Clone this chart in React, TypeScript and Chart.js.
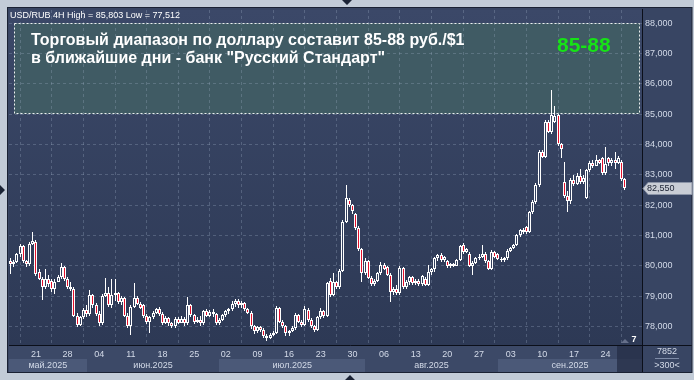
import React, { useEffect, useRef } from 'react';
import { Chart, registerables } from 'chart.js';

Chart.register(...registerables);

// ---- DATA ----
const opens = [
  80.15, 80.05, 80.12, 80.38, 80.65, 80.15, 80.05, 80.72, 80.80, 79.80,
  79.58, 79.30, 79.55, 79.50, 79.22, 79.48, 79.62, 79.95, 79.58, 79.30,
  79.25, 78.35, 78.05, 78.30, 78.55, 78.40, 79.05, 78.70, 78.40, 78.10,
  79.02, 79.10, 78.70, 79.05, 79.10, 78.80, 78.95, 78.35, 78.00, 78.65,
  78.95, 78.75, 78.70, 78.33, 78.15, 78.30, 78.45, 78.58, 78.40, 78.12,
  78.28, 78.10, 78.00, 78.25, 78.12, 78.25, 78.10, 78.70, 78.38, 78.15,
  78.22, 78.10, 78.50, 78.35, 78.48, 78.40, 78.10, 78.22, 78.38, 78.50,
  78.58, 78.75, 78.85, 78.70, 78.78, 78.58, 78.45, 78.00, 77.85, 77.98,
  77.90, 77.70, 77.62, 77.72, 77.80, 78.60, 78.15, 78.00, 77.78, 77.85,
  77.95, 78.38, 78.15, 78.05, 78.55, 78.22, 78.00, 77.90, 78.30, 78.50,
  78.35, 79.50, 79.05, 79.45, 79.30, 79.82, 81.45, 82.17, 82.00, 81.70,
  81.25, 80.55, 79.75, 80.15, 79.60, 79.40, 79.50, 79.75, 80.03, 79.95,
  79.70, 79.15, 79.25, 79.10, 79.92, 79.30, 79.45, 79.62, 79.42, 79.50,
  79.40, 79.55, 79.38, 79.80, 79.88, 80.25, 80.35, 80.20, 80.15, 79.98,
  80.05, 80.00, 80.18, 80.70, 80.45, 80.40, 80.00, 80.10, 80.25, 80.30,
  80.40, 80.15, 79.90, 80.45, 80.38, 80.22, 80.18, 80.25, 80.50, 80.58,
  80.68, 81.00, 81.18, 81.28, 81.12, 81.78, 82.11, 82.66, 83.75, 83.60,
  84.75, 84.42, 84.75, 84.97, 84.00, 82.75, 82.30, 82.12, 82.82, 82.70,
  82.95, 82.75, 82.25, 83.15, 83.40, 83.30, 83.48, 83.55, 83.05, 83.55,
  83.38, 83.50, 83.40, 83.43, 82.85,
];
const highs = [
  80.25, 80.20, 80.42, 80.72, 80.70, 80.20, 80.80, 81.12, 80.84, 79.88,
  79.62, 79.90, 79.70, 79.58, 79.55, 79.70, 80.08, 80.00, 79.62, 79.45,
  79.30, 78.45, 78.35, 78.60, 78.70, 79.20, 79.08, 78.78, 78.50, 79.08,
  79.60, 79.30, 79.55, 79.55, 79.15, 79.00, 78.98, 78.45, 78.70, 79.42,
  79.00, 78.80, 78.75, 78.40, 78.35, 78.50, 78.62, 78.65, 78.48, 78.35,
  78.32, 78.15, 78.30, 78.32, 78.35, 78.30, 78.98, 78.75, 78.42, 78.30,
  78.35, 78.55, 78.58, 78.55, 78.58, 78.45, 78.28, 78.42, 78.55, 78.62,
  78.85, 78.92, 78.92, 78.85, 78.82, 78.62, 78.50, 78.05, 78.02, 78.02,
  77.95, 77.75, 77.78, 77.85, 78.66, 78.65, 78.20, 78.05, 77.90, 78.00,
  78.45, 78.42, 78.22, 78.68, 78.60, 78.28, 78.05, 78.35, 78.60, 78.55,
  79.48, 79.60, 79.75, 79.50, 79.88, 81.50, 82.66, 82.25, 82.05, 81.75,
  81.30, 80.60, 80.25, 80.20, 79.65, 79.55, 79.80, 80.12, 80.10, 80.00,
  79.75, 79.30, 79.38, 79.98, 79.95, 79.52, 79.68, 79.65, 79.55, 79.55,
  79.70, 79.62, 80.03, 79.92, 80.30, 80.40, 80.42, 80.32, 80.20, 80.08,
  80.10, 80.22, 80.70, 80.75, 80.60, 80.45, 80.15, 80.30, 80.40, 80.70,
  80.45, 80.18, 80.52, 80.50, 80.42, 80.28, 80.30, 80.55, 80.62, 80.72,
  81.05, 81.22, 81.25, 81.32, 81.82, 82.18, 82.72, 83.80, 83.82, 84.80,
  84.80, 85.80, 85.25, 85.00, 84.05, 83.43, 82.45, 82.88, 83.00, 83.05,
  83.20, 83.00, 83.20, 83.45, 83.48, 83.65, 83.52, 83.60, 83.90, 83.60,
  83.55, 83.76, 83.62, 83.48, 82.90,
];
const lows = [
  79.72, 79.95, 80.08, 80.30, 80.10, 79.95, 80.00, 80.68, 79.66, 79.52,
  78.88, 79.25, 79.30, 79.15, 79.08, 79.45, 79.58, 79.50, 79.25, 79.18,
  78.30, 77.98, 78.00, 78.25, 78.30, 78.35, 78.60, 78.33, 78.00, 78.05,
  78.98, 78.65, 78.62, 78.85, 78.75, 78.70, 78.30, 77.95, 77.72, 78.60,
  78.70, 78.58, 78.28, 78.08, 77.80, 78.25, 78.40, 78.35, 78.05, 78.08,
  78.02, 77.95, 77.95, 78.08, 78.10, 78.02, 78.05, 78.32, 78.08, 78.10,
  78.02, 78.05, 78.30, 78.30, 78.30, 78.05, 78.05, 78.18, 78.32, 78.42,
  78.52, 78.65, 78.62, 78.60, 78.52, 78.40, 77.92, 77.75, 77.80, 77.82,
  77.62, 77.51, 77.58, 77.68, 77.75, 78.10, 77.95, 77.70, 77.68, 77.82,
  77.90, 78.10, 77.98, 78.00, 78.15, 77.95, 77.82, 77.85, 78.25, 78.28,
  78.30, 78.98, 79.00, 79.25, 79.25, 79.78, 81.40, 81.95, 81.72, 81.18,
  80.50, 79.45, 79.70, 79.55, 79.32, 79.35, 79.45, 79.70, 79.85, 79.65,
  78.82, 79.05, 79.04, 79.05, 79.25, 79.22, 79.38, 79.38, 79.36, 79.35,
  79.35, 79.33, 79.35, 79.70, 79.80, 80.15, 80.12, 80.14, 79.92, 79.92,
  79.95, 79.98, 80.15, 80.40, 80.42, 79.95, 79.70, 80.05, 80.20, 80.25,
  80.10, 79.85, 79.85, 80.25, 80.18, 80.12, 80.12, 80.20, 80.45, 80.55,
  80.65, 80.95, 81.05, 81.05, 81.08, 81.72, 82.05, 82.60, 83.55, 83.55,
  84.38, 84.35, 84.70, 83.95, 83.55, 82.25, 81.78, 82.05, 82.62, 82.65,
  82.70, 82.68, 82.20, 83.10, 83.22, 83.28, 83.35, 83.00, 83.00, 83.30,
  83.30, 83.20, 83.35, 82.80, 82.50,
];
const closes = [
  80.05, 80.12, 80.38, 80.65, 80.15, 80.05, 80.72, 80.82, 79.72, 79.58,
  79.30, 79.55, 79.40, 79.22, 79.48, 79.62, 79.95, 79.58, 79.30, 79.25,
  78.35, 78.05, 78.30, 78.55, 78.40, 79.05, 78.70, 78.40, 78.10, 79.02,
  79.10, 78.70, 79.05, 79.10, 78.80, 78.95, 78.35, 78.00, 78.65, 78.95,
  78.75, 78.62, 78.33, 78.15, 78.30, 78.45, 78.58, 78.40, 78.12, 78.28,
  78.10, 78.00, 78.25, 78.12, 78.25, 78.10, 78.70, 78.38, 78.15, 78.22,
  78.10, 78.50, 78.35, 78.48, 78.40, 78.10, 78.22, 78.38, 78.50, 78.58,
  78.75, 78.85, 78.70, 78.78, 78.58, 78.45, 78.00, 77.85, 77.98, 77.90,
  77.70, 77.62, 77.72, 77.80, 78.60, 78.15, 78.00, 77.78, 77.85, 77.95,
  78.38, 78.15, 78.05, 78.58, 78.22, 78.00, 77.90, 78.30, 78.50, 78.35,
  79.42, 79.05, 79.45, 79.30, 79.82, 81.45, 82.22, 82.00, 81.80, 81.25,
  80.55, 79.75, 80.15, 79.60, 79.40, 79.50, 79.75, 80.03, 79.90, 79.70,
  79.15, 79.25, 79.10, 79.92, 79.30, 79.45, 79.62, 79.42, 79.50, 79.40,
  79.65, 79.38, 79.80, 79.88, 80.25, 80.35, 80.20, 80.28, 79.98, 80.05,
  80.00, 80.18, 80.65, 80.45, 80.55, 80.00, 80.10, 80.25, 80.30, 80.40,
  80.15, 79.90, 80.45, 80.30, 80.22, 80.18, 80.25, 80.50, 80.58, 80.68,
  81.00, 81.18, 81.10, 81.12, 81.78, 82.11, 82.66, 83.75, 83.60, 84.75,
  84.42, 84.97, 84.95, 84.00, 83.85, 82.30, 82.12, 82.82, 82.70, 82.95,
  82.75, 82.90, 83.15, 83.40, 83.30, 83.48, 83.40, 83.05, 83.35, 83.38,
  83.50, 83.40, 83.55, 82.85, 82.55,
];

const weekTickPos = [8.5, 18.5, 28.5, 38.5, 48.5, 58.5, 68.5, 78.5, 88.5, 98.5, 108.5, 118.5, 128.5, 138.5, 148.5, 158.5, 168.5, 178.5, 188.5];
const weekTickLabels = ['21', '28', '04', '11', '18', '25', '02', '09', '16', '23', '30', '06', '13', '20', '27', '03', '10', '17', '24'];
const monthStarts = [0, 24.5, 66.5, 112.5, 154.5];
const monthLabels = ['май.2025', 'июн.2025', 'июл.2025', 'авг.2025', 'сен.2025'];
const priceTicks = [78, 79, 80, 81, 82, 83, 84, 85, 86, 87, 88];

const headerText = 'USD/RUB 4H High = 85,803 Low = 77,512';
const titleLines = ['Торговый диапазон по доллару составит 85-88 руб./$1', 'в ближайшие дни - банк "Русский Стандарт"'];
const rangeLabel = '85-88';
const rangeLow = 85;
const rangeHigh = 88;
const rangeFrom = 1.6;
const rangeTo = 199.5;
const barsCountText = '7852';
const scaleText = '>300<';
const shiftText = '7';
const shiftFrom = 192;

const X_MIN = 0;
const X_MAX = 200;
const Y_MIN = 77.39;
const Y_MAX = 88.43;

const FONT = '"Liberation Sans", Arial, sans-serif';
const fmt = (v: number) => v.toFixed(3).replace('.', ',');

// snap bar elements (positioned by the scales) to whole pixels for crisp candles
const snapPlugin = {
  id: 'snap',
  afterDatasetsUpdate(chart: any) {
    chart.getSortedVisibleDatasetMetas().forEach((meta: any) => {
      meta.data.forEach((el: any) => {
        el.x = Math.floor(el.x) + 0.5;
        el.y = Math.round(el.y);
        el.base = Math.round(el.base);
        if (Math.abs(el.y - el.base) < 1) el.base = el.y + 1;
      });
    });
  },
};

const framePlugin = {
  id: 'frame',
  beforeDraw(chart: any) {
    const { ctx, chartArea: a, scales } = chart;
    const x = scales.x, y = scales.y;
    const W = chart.width, H = chart.height;
    ctx.save();
    ctx.fillStyle = '#c2cbd7';
    ctx.fillRect(0, 0, W, H);
    ctx.fillStyle = '#384563';
    ctx.fillRect(8, 8, W - 2 - 8, x.bottom - 8);
    const g = ctx.createLinearGradient(0, a.top, 0, a.bottom);
    g.addColorStop(0, '#3b4868');
    g.addColorStop(1, '#2d3955');
    ctx.fillStyle = g;
    ctx.fillRect(a.left, a.top, a.right - a.left, a.bottom - a.top);
    ctx.fillStyle = '#3c4967';
    ctx.fillRect(a.left, a.bottom, a.right - a.left, x.bottom - a.bottom);
    const bandTop = a.bottom + 14;
    monthStarts.forEach((m, i) => {
      if (i % 2 === 0) {
        const x0 = Math.round(x.getPixelForValue(m));
        const x1 = Math.round(x.getPixelForValue(i + 1 < monthStarts.length ? monthStarts[i + 1] : X_MAX));
        ctx.fillStyle = '#4b5978';
        ctx.fillRect(x0, bandTop, x1 - x0, x.bottom - bandTop);
      }
    });
    const sx0 = Math.round(x.getPixelForValue(shiftFrom));
    ctx.fillStyle = 'rgba(36,45,70,0.75)';
    ctx.fillRect(sx0, a.bottom + 1, a.right - sx0, x.bottom - a.bottom - 1);
    const bx0 = Math.round(x.getPixelForValue(rangeFrom));
    const bx1 = Math.round(x.getPixelForValue(rangeTo));
    const by0 = Math.round(y.getPixelForValue(rangeHigh));
    const by1 = Math.round(y.getPixelForValue(rangeLow));
    ctx.fillStyle = '#405b64';
    ctx.fillRect(bx0, by0, bx1 - bx0, by1 - by0);
    ctx.restore();
  },
  beforeDatasetsDraw(chart: any) {
    const { ctx, scales } = chart;
    const x = scales.x, y = scales.y;
    const bx0 = Math.round(x.getPixelForValue(rangeFrom)) + 0.5;
    const bx1 = Math.round(x.getPixelForValue(rangeTo)) - 0.5;
    const by0 = Math.round(y.getPixelForValue(rangeHigh)) + 0.5;
    const by1 = Math.round(y.getPixelForValue(rangeLow)) - 0.5;
    ctx.save();
    ctx.strokeStyle = 'rgba(255,255,255,0.9)';
    ctx.lineWidth = 1;
    ctx.setLineDash([2, 2]);
    ctx.strokeRect(bx0, by0, bx1 - bx0, by1 - by0);
    ctx.restore();
  },
  afterDraw(chart: any) {
    const { ctx, chartArea: a, scales } = chart;
    const x = scales.x, y = scales.y;
    const W = chart.width, H = chart.height;
    ctx.save();
    ctx.strokeStyle = '#0b0f1a';
    ctx.lineWidth = 1;
    ctx.beginPath();
    ctx.moveTo(a.right + 0.5, a.top - 1);
    ctx.lineTo(a.right + 0.5, x.bottom);
    ctx.moveTo(a.left, a.bottom + 0.5);
    ctx.lineTo(W - 2, a.bottom + 0.5);
    ctx.stroke();
    ctx.strokeStyle = '#1a2133';
    ctx.strokeRect(7.5, 7.5, W - 2 - 7.5, x.bottom - 7);

    ctx.fillStyle = '#ffffff';
    ctx.font = `9px ${FONT}`;
    ctx.textBaseline = 'alphabetic';
    ctx.textAlign = 'left';
    ctx.fillText(headerText, a.left + 1, a.top + 8);

    const bx0 = x.getPixelForValue(rangeFrom);
    const by0 = y.getPixelForValue(rangeHigh);
    ctx.font = `bold 16px ${FONT}`;
    ctx.fillStyle = '#ffffff';
    ctx.fillText(titleLines[0], bx0 + 17, by0 + 22);
    ctx.fillText(titleLines[1], bx0 + 17, by0 + 40);
    ctx.font = `bold 21px ${FONT}`;
    ctx.fillStyle = '#16e316';
    ctx.fillText(rangeLabel, 557, by0 + 29);

    ctx.font = `9px ${FONT}`;
    ctx.fillStyle = '#d3dae8';
    ctx.textAlign = 'center';
    ctx.textBaseline = 'middle';
    monthStarts.forEach((m, i) => {
      const x0 = x.getPixelForValue(m);
      const x1 = x.getPixelForValue(i + 1 < monthStarts.length ? monthStarts[i + 1] : X_MAX);
      ctx.fillText(monthLabels[i], (x0 + x1) / 2, a.bottom + 20.5);
    });

    const cx = (a.right + W - 2) / 2;
    ctx.fillText(barsCountText, cx, a.bottom + 7);
    ctx.fillText(scaleText, cx, a.bottom + 21);
    ctx.strokeStyle = '#7d8aa6';
    ctx.beginPath();
    ctx.moveTo(cx - 12, a.bottom + 13.5);
    ctx.lineTo(cx + 12, a.bottom + 13.5);
    ctx.stroke();

    ctx.font = `bold 9px ${FONT}`;
    ctx.fillStyle = '#ffffff';
    ctx.fillText(shiftText, a.right - 8, a.bottom - 5);
    ctx.fillStyle = 'rgba(140,150,175,0.6)';
    ctx.beginPath();
    ctx.moveTo(a.right - 21, a.bottom - 2);
    ctx.lineTo(a.right - 17, a.bottom - 6);
    ctx.lineTo(a.right - 13, a.bottom - 2);
    ctx.closePath();
    ctx.fill();

    const last = closes[closes.length - 1];
    const py = Math.round(y.getPixelForValue(last)) + 0.5;
    ctx.fillStyle = '#c9cdd5';
    ctx.strokeStyle = '#8a93a6';
    ctx.beginPath();
    ctx.moveTo(a.right + 1, py);
    ctx.lineTo(a.right + 6, py - 6);
    ctx.lineTo(W - 2, py - 6);
    ctx.lineTo(W - 2, py + 6);
    ctx.lineTo(a.right + 6, py + 6);
    ctx.closePath();
    ctx.fill();
    ctx.stroke();
    ctx.fillStyle = '#1b2233';
    ctx.font = `9px ${FONT}`;
    ctx.textAlign = 'left';
    ctx.fillText(fmt(last), a.right + 5, py);

    ctx.fillStyle = '#1b2335';
    ctx.beginPath();
    ctx.moveTo(342, 0); ctx.lineTo(352, 0); ctx.lineTo(347, 5); ctx.closePath();
    ctx.moveTo(345, H); ctx.lineTo(355, H); ctx.lineTo(350, H - 5); ctx.closePath();
    ctx.moveTo(0, 185); ctx.lineTo(0, 195); ctx.lineTo(5, 190); ctx.closePath();
    ctx.fill();
    ctx.restore();
  },
};

export default function App() {
  const ref = useRef<HTMLCanvasElement | null>(null);
  useEffect(() => {
    if (!ref.current) return;
    const wicks = lows.map((l, i) => ({ x: i + 0.5, y: [l, highs[i]] }));
    const bodies = opens.map((o, i) => ({ x: i + 0.5, y: [o, closes[i]] }));
    const bodyColors = opens.map((o, i) => (closes[i] < o ? '#e3102c' : '#33405e'));
    const gridColor = 'rgba(160,175,200,0.3)';
    const chart = new Chart(ref.current, {
      type: 'bar',
      data: {
        datasets: [
          {
            data: bodies as any,
            backgroundColor: bodyColors,
            borderColor: '#ffffff',
            borderWidth: 1,
            borderSkipped: false,
            barThickness: 3,
            grouped: false,
            order: 1,
            inflateAmount: 0,
            minBarLength: 1,
          } as any,
          {
            data: wicks as any,
            backgroundColor: '#ffffff',
            borderWidth: 0,
            barThickness: 1,
            grouped: false,
            order: 2,
            inflateAmount: 0,
          } as any,
        ],
      },
      options: {
        responsive: false,
        animation: false,
        events: [],
        layout: { padding: { left: 9, top: 10, right: 2, bottom: 8 } },
        plugins: { legend: { display: false }, tooltip: { enabled: false } },
        scales: {
          x: {
            type: 'linear',
            min: X_MIN,
            max: X_MAX,
            offset: false,
            grid: { color: gridColor, drawTicks: false, lineWidth: 1 },
            border: { display: false, dash: [3, 3] },
            ticks: {
              color: '#d3dae8',
              font: { size: 9, family: FONT },
              padding: 4,
              maxRotation: 0,
              autoSkip: false,
              callback: (_v: any, i: number) => weekTickLabels[i],
            },
            afterBuildTicks: (s: any) => {
              s.ticks = weekTickPos.map((v) => ({ value: v }));
            },
            afterFit: (s: any) => {
              s.height = 27;
            },
          },
          y: {
            type: 'linear',
            position: 'right',
            min: Y_MIN,
            max: Y_MAX,
            grid: { color: gridColor, drawTicks: false, lineWidth: 1 },
            border: { display: false, dash: [3, 3] },
            ticks: {
              color: '#d3dae8',
              font: { size: 9, family: FONT },
              padding: 3,
              callback: (v: any) => fmt(Number(v)),
            },
            afterBuildTicks: (s: any) => {
              s.ticks = priceTicks.map((v) => ({ value: v }));
            },
            afterFit: (s: any) => {
              s.width = 50;
            },
          },
        },
      } as any,
      plugins: [snapPlugin, framePlugin],
    });
    return () => chart.destroy();
  }, []);
  return (
    <canvas
      ref={ref}
      width={694}
      height={380}
      style={{ position: 'fixed', left: 0, top: 0, display: 'block' }}
    />
  );
}
